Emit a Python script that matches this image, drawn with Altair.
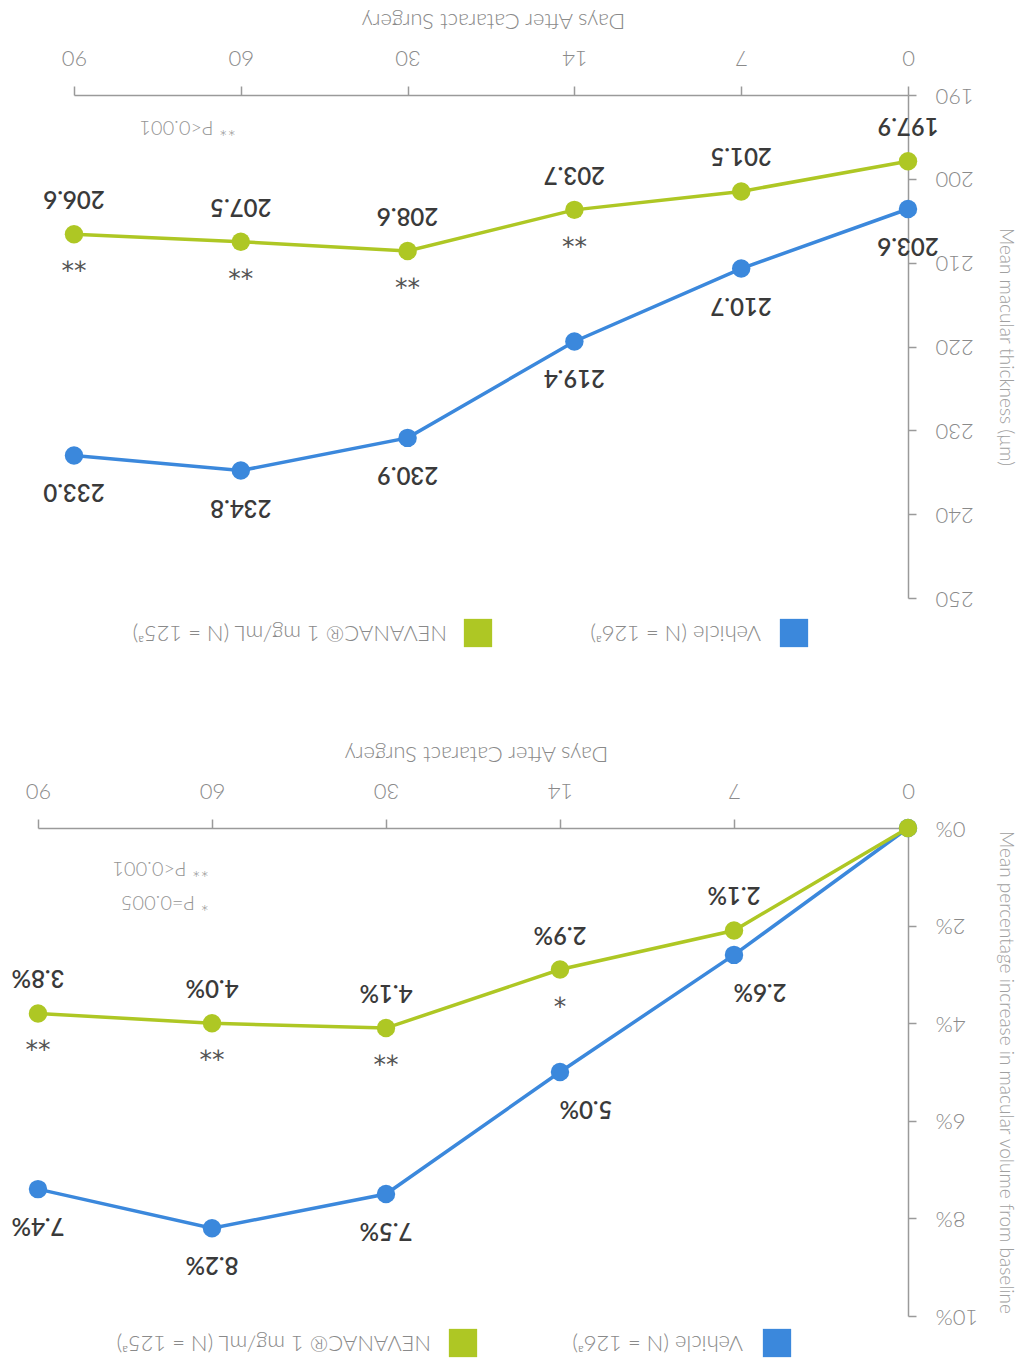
import altair as alt
import pandas as pd

# Days after surgery, shown as evenly spaced categories (day 0 on the right)
days = ["0", "7", "14", "30", "60", "90"]
day_order = ["90", "60", "30", "14", "7", "0"]

# Mean macular thickness (µm)
thickness_vehicle = [203.6, 210.7, 219.4, 230.9, 234.8, 233.0]
thickness_nevanac = [197.9, 201.5, 203.7, 208.6, 207.5, 206.6]
thickness_sig = ["", "", "**", "**", "**", "**"]

# Mean percentage increase in macular volume from baseline (%)
volume_vehicle = [0.0, 2.6, 5.0, 7.5, 8.2, 7.4]
volume_nevanac = [0.0, 2.1, 2.9, 4.1, 4.0, 3.8]
volume_sig = ["", "", "*", "**", "**", "**"]

series_names = ["Vehicle", "NEVANAC"]
legend_labels = ["Vehicle (N = 126ᵃ)", "NEVANAC® 1 mg/mL (N = 125ᵃ)"]
series_colors = ["#3b88dc", "#aec724"]

FONT = "Lato"
AXIS_GREY = "#9a9a9a"
TEXT_GREY = "#8a8a8a"
LABEL_DARK = "#3a3a3a"


def build_frame(vehicle, nevanac, sig, suffix):
    rows = []
    for name, values in zip(series_names, [vehicle, nevanac]):
        for i, (d, v) in enumerate(zip(days, values)):
            rows.append({
                "day": d,
                "value": v,
                "series": name,
                "label": f"{v:.1f}{suffix}",
                "sig": sig[i] if name == "NEVANAC" else "",
            })
    return pd.DataFrame(rows)


def single(values):
    return alt.Data(values=[{"k": v} for v in values])


def panel(df, y_domain, y_ticks, y_title, y_label_expr, x_range, width, height,
          title_x, legend_pos, notes, skip_day0_labels, shifted_days):
    x_axis = alt.Axis(
        orient="top", title="Days After Cataract Surgery",
        labelAngle=180, labelAlign="center", labelBaseline="middle",
        labelPadding=29, labelFontSize=22, labelColor=TEXT_GREY,
        labelFont=FONT, labelFontWeight=300, labelFlush=False, labelOverlap=False,
        tickSize=9, tickWidth=1.5, tickColor=AXIS_GREY,
        domainColor=AXIS_GREY, domainWidth=1.5, grid=False,
        titleAngle=180, titleAlign="center", titleBaseline="middle",
        titleX=title_x, titleY=-75, titleFontSize=22, titleFont=FONT,
        titleFontWeight=300, titleColor=TEXT_GREY,
    )
    y_axis_kw = dict(
        orient="right", title=y_title, values=y_ticks,
        labelAngle=180, labelAlign="right", labelBaseline="middle",
        labelPadding=19, labelFontSize=22, labelColor=TEXT_GREY,
        labelFont=FONT, labelFontWeight=300, labelFlush=False, labelOverlap=False,
        tickSize=8, tickWidth=1.5, tickColor=AXIS_GREY,
        domainColor=AXIS_GREY, domainWidth=1.5, grid=False,
        titleAngle=90, titleAlign="center", titleBaseline="middle",
        titleX=97, titleY=height / 2, titleFontSize=19, titleFont=FONT,
        titleFontWeight=300, titleColor="#a0a0a0",
    )
    if y_label_expr:
        y_axis_kw["labelExpr"] = y_label_expr
    y_axis = alt.Axis(**y_axis_kw)

    x = alt.X("day:N", sort=day_order,
              scale=alt.Scale(type="point", padding=0, range=x_range),
              axis=x_axis)
    y = alt.Y("value:Q",
              scale=alt.Scale(domain=y_domain, reverse=True, nice=False, zero=False),
              axis=y_axis)

    base = alt.Chart(df)
    layers = []
    for name, color in zip(series_names, series_colors):
        s = base.transform_filter(alt.datum.series == name)
        layers.append(s.mark_line(strokeWidth=3.5, color=color).encode(x=x, y=y))
        layers.append(s.mark_circle(size=340, opacity=1, color=color).encode(x=x, y=y))

    # value labels: NEVANAC above its points, Vehicle below (screen view)
    label_style = dict(angle=180, align="center", baseline="middle",
                       font=FONT, fontSize=24, fontWeight=600, color=LABEL_DARK)
    for name, dy in zip(series_names, [-36, 36]):
        lab = base.transform_filter(alt.datum.series == name)
        if skip_day0_labels:
            lab = lab.transform_filter(alt.datum.day != "0")
        if name == "Vehicle" and shifted_days:
            plain = lab.transform_filter(
                "indexof(%s, datum.day) < 0" % str(shifted_days))
            moved = lab.transform_filter(
                "indexof(%s, datum.day) >= 0" % str(shifted_days))
            for part, dx in [(plain, 0), (moved, -26)]:
                layers.append(part.mark_text(dy=dy, dx=dx, **label_style)
                              .encode(x=x, y=y, text="label:N"))
        else:
            layers.append(lab.mark_text(dy=dy, **label_style)
                          .encode(x=x, y=y, text="label:N"))

    # significance markers under NEVANAC points
    sig = base.transform_filter(
        (alt.datum.series == "NEVANAC") & (alt.datum.sig != ""))
    layers.append(sig.mark_text(
        angle=180, dy=-28, align="center", baseline="middle",
        font="DejaVu Sans", fontSize=25, color="#555555",
    ).encode(x=x, y=y, text="sig:N"))

    # legend swatches and labels
    for (sq_x, tx_x, ly), label, color in zip(legend_pos, legend_labels, series_colors):
        layers.append(alt.Chart(single([label])).mark_square(
            size=800, opacity=1, color=color,
        ).encode(x=alt.value(sq_x), y=alt.value(ly)))
        layers.append(alt.Chart(single([label])).mark_text(
            angle=180, align="left", baseline="middle",
            font=FONT, fontSize=22, fontWeight=300, color=TEXT_GREY,
        ).encode(x=alt.value(tx_x), y=alt.value(ly), text="k:N"))

    # p-value notes
    for (nx, ny), note in notes:
        layers.append(alt.Chart(single([note])).mark_text(
            angle=180, align="left", baseline="middle",
            font=FONT, fontSize=20, fontWeight=300, color="#959595",
        ).encode(x=alt.value(nx), y=alt.value(ny), text="k:N"))

    return alt.layer(*layers).properties(width=width, height=height)


thickness_df = build_frame(thickness_vehicle, thickness_nevanac, thickness_sig, "")
volume_df = build_frame(volume_vehicle, volume_nevanac, volume_sig, "%")

top = panel(
    thickness_df, [190, 250], [190, 200, 210, 220, 230, 240, 250],
    "Mean macular thickness (µm)", None, [36, 870], 870, 503, 455,
    [(756, 723, 538), (440, 409, 538)],
    [((198, 32), "** P<0.001")],
    False, [],
)

bottom = panel(
    volume_df, [0, 10], [0, 2, 4, 6, 8, 10],
    "Mean percentage increase in macular volume from baseline",
    "datum.value + '%'", [0, 870], 870, 488, 438,
    [(739, 705, 515), (425, 393, 515)],
    [((171, 40), "** P<0.001"), ((171, 74), "* P=0.005")],
    True, ["7", "14"],
)

chart = alt.vconcat(top, bottom, spacing=230).properties(
    bounds="flush",
    padding={"left": 11, "top": 8, "right": 5, "bottom": 5},
    background="white",
).configure_view(stroke=None)

chart.save("out.html", embed_options={"renderer": "svg", "actions": False})
